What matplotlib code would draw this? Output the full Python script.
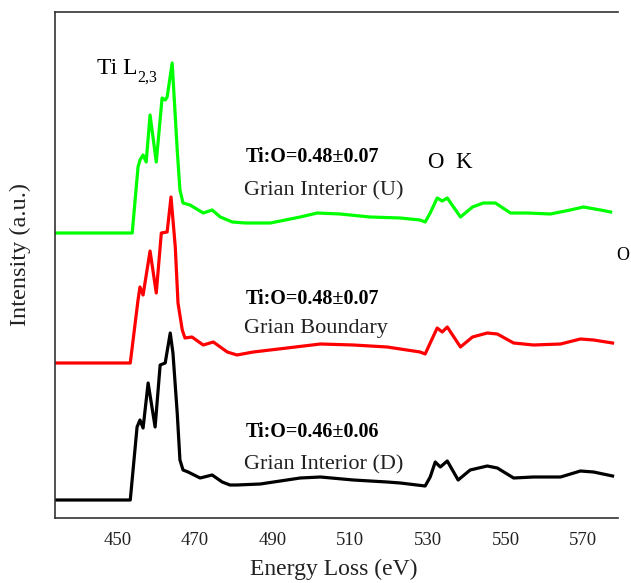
import matplotlib
matplotlib.use("Agg")
import matplotlib.pyplot as plt

# ---- data ----
energy_u = [433.9, 453.8, 455.3, 455.8, 456.6, 457.4, 458.4, 460.0, 461.5, 462.3, 462.8, 464.1,
            465.4, 466.1, 466.9, 468.7, 472.1, 474.4, 476.5, 479.6, 483.0, 489.4, 497.1, 501.5,
            507.4, 515.1, 522.9, 528.0, 529.3, 530.6, 532.4, 533.7, 535.0, 538.4, 541.5, 544.3,
            547.4, 551.3, 555.7, 561.6, 566.7, 570.1, 574.5, 577.1]
int_u = [2.85, 2.85, 3.51, 3.58, 3.63, 3.56, 4.03, 3.56, 4.20, 4.18, 4.21, 4.55,
         3.68, 3.28, 3.15, 3.13, 3.05, 3.08, 3.01, 2.96, 2.95, 2.95, 3.01, 3.05,
         3.04, 3.01, 3.00, 2.98, 2.96, 3.05, 3.20, 3.17, 3.20, 3.01, 3.11, 3.15,
         3.15, 3.05, 3.05, 3.04, 3.08, 3.11, 3.08, 3.06]

energy_b = [433.9, 453.3, 455.3, 455.8, 456.6, 458.4, 460.0, 461.3, 462.8, 463.8, 464.9, 465.6,
            466.7, 467.4, 469.2, 472.1, 474.7, 478.3, 480.8, 485.0, 493.7, 502.3, 510.8, 519.5,
            528.0, 529.3, 530.6, 532.4, 533.7, 535.0, 538.4, 541.5, 545.3, 547.9, 552.1, 557.2,
            564.2, 569.3, 572.7, 577.6]
int_b = [1.55, 1.55, 2.18, 2.31, 2.23, 2.67, 2.25, 2.85, 2.86, 3.21, 2.71, 2.15,
         1.88, 1.80, 1.81, 1.73, 1.76, 1.66, 1.63, 1.66, 1.70, 1.74, 1.73, 1.71,
         1.66, 1.64, 1.75, 1.90, 1.86, 1.91, 1.71, 1.81, 1.85, 1.84, 1.75, 1.73,
         1.74, 1.79, 1.78, 1.75]

energy_d = [433.9, 453.3, 455.05, 455.8, 456.6, 457.9, 459.7, 461.0, 462.3, 463.6, 464.3, 465.4,
            466.1, 466.9, 468.2, 471.3, 474.4, 477.0, 479.0, 480.8, 486.8, 497.1, 502.3, 510.8,
            519.5, 522.9, 529.3, 530.6, 531.9, 533.2, 535.0, 537.8, 540.9, 545.3, 547.9, 552.1,
            557.2, 564.2, 569.3, 572.7, 577.6]
int_d = [0.18, 0.18, 0.91, 0.98, 0.90, 1.35, 0.91, 1.53, 1.55, 1.85, 1.65, 1.05,
         0.58, 0.48, 0.46, 0.40, 0.43, 0.36, 0.33, 0.33, 0.34, 0.40, 0.41, 0.38,
         0.36, 0.35, 0.32, 0.41, 0.56, 0.51, 0.57, 0.38, 0.48, 0.52, 0.50, 0.40,
         0.41, 0.41, 0.47, 0.46, 0.42]

xtick_values = [450, 470, 490, 510, 530, 550, 570]
xtick_marks = [550, 570]
ratio_labels = ["Ti:O=0.48\u00b10.07", "Ti:O=0.48\u00b10.07", "Ti:O=0.46\u00b10.06"]
region_labels = ["Grian Interior (U)", "Grian Boundary", "Grian Interior (D)"]

W, H = 631, 583
fig = plt.figure(figsize=(W / 100, H / 100), dpi=100)
ax = fig.add_axes([55 / W, 1 - 518 / H, (618 - 55) / W, (518 - 12) / H])

serif = ["Liberation Serif", "DejaVu Serif"]

ax.plot(energy_u, int_u, color="#00ff00", lw=2.3)
ax.plot(energy_b, int_b, color="#ff0000", lw=2.3)
ax.plot(energy_d, int_d, color="black", lw=2.3)

ax.set_xlim(433.9, 579.0)
ax.set_ylim(0, 5.06)
ax.set_yticks([])
ax.set_xticks(xtick_values)
ax.set_xticklabels([str(v) for v in xtick_values], fontfamily=serif, fontsize=13.5, color="#222222")
ax.tick_params(axis="x", which="major", length=0, pad=10)
ax.set_xticks(xtick_marks, minor=True)
ax.tick_params(axis="x", which="minor", direction="in", length=5, width=1.2,
               top=True, bottom=True, color="#333333")
ax.spines["right"].set_visible(False)
for s in ["left", "top", "bottom"]:
    ax.spines[s].set_linewidth(1.2)
    ax.spines[s].set_color("#333333")

def px(x, y):
    return x / W, 1 - y / H

fig.text(*px(334, 569), "Energy Loss (eV)", ha="center", va="center", fontfamily=serif, fontsize=17, color="#222222")
fig.text(*px(20, 254), "Intensity (a.u.)", ha="center", va="center", rotation=90, fontfamily=serif, fontsize=17.5, color="#222222")
ti = fig.text(*px(97, 69), "Ti L", ha="left", va="center", fontfamily=serif, fontsize=17)
ax.annotate("2,3", xy=(1.0, 0.08), xycoords=ti, ha="left", va="center",
            fontfamily=serif, fontsize=11.5)
fig.text(*px(428, 162), "O  K", ha="left", va="center", fontfamily=serif, fontsize=16.5)
fig.text(*px(616, 256), "O", ha="left", va="center", fontfamily=serif, fontsize=13)

ratio_y = [157, 299, 432]
region_y = [191, 329, 465]
for r, g, ry, gy in zip(ratio_labels, region_labels, ratio_y, region_y):
    fig.text(*px(246, ry), r, ha="left", va="center", fontfamily=serif, fontsize=14.5, fontweight="bold")
    fig.text(*px(244, gy), g, ha="left", va="center", fontfamily=serif, fontsize=16, color="#222222")

fig.savefig("out.png", dpi=100)
